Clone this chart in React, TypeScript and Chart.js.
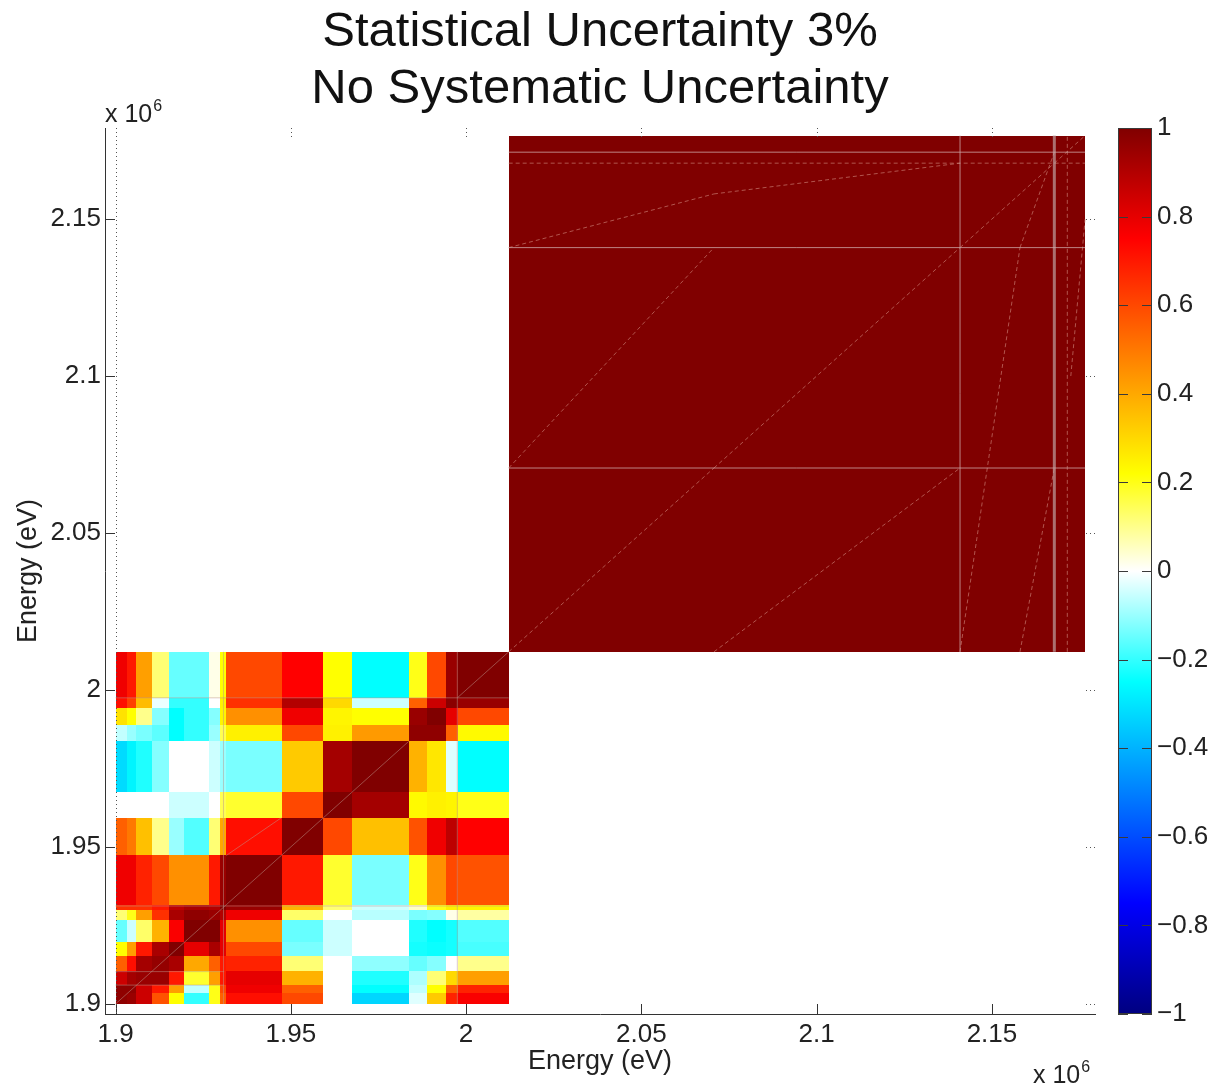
import React, { useEffect, useRef } from "react";
import { Chart, registerables } from "chart.js";

Chart.register(...registerables);

const FONT = "'Liberation Sans', Arial, sans-serif";
const ORIGIN = 1900000;
const X_TICKS = [1900000, 1950000, 2000000, 2050000, 2100000, 2150000];
const Y_TICKS = [1900000, 1950000, 2000000, 2050000, 2100000, 2150000];
const BAR_TICKS = [-1, -0.8, -0.6, -0.4, -0.2, 0, 0.2, 0.4, 0.6, 0.8, 1];

// Energy bin edges of the lower block, eV above 1.9e6
const EDGES = [0, 3400, 5900, 10400, 15200, 19650, 26600, 29800, 31650, 47350, 59300, 67400, 83600, 88900, 94200, 97600, 112150];

// Correlation values, first row is the lowest energy
const MATRIX = [
  [0.97, 0.95, 0.85, 0.58, 0.22, -0.2, 0.2, 0.55, 0.72, 0.6, 0, -0.33, -0.03, 0.33, 0.68, 0.76],
  [0.97, 0.97, 0.85, 0.7, 0.42, -0.06, 0.2, 0.6, 0.78, 0.55, 0, -0.25, -0.06, 0.22, 0.55, 0.68],
  [0.85, 0.93, 0.95, 0.95, 0.7, 0.18, 0.42, 0.7, 0.8, 0.38, 0, -0.22, -0.08, 0.12, 0.3, 0.42],
  [0.55, 0.72, 0.93, 0.96, 0.92, 0.4, 0.55, 0.7, 0.68, 0.12, 0, -0.11, -0.15, -0.12, 0, 0.1],
  [0.22, 0.42, 0.7, 0.92, 1, 0.8, 0.92, 0.8, 0.6, -0.13, -0.05, 0, -0.23, -0.24, -0.23, -0.18],
  [-0.15, -0.05, 0.13, 0.38, 0.76, 1, 1, 0.8, 0.45, -0.15, -0.05, 0, -0.22, -0.25, -0.23, -0.17],
  [0.12, 0.2, 0.42, 0.65, 0.92, 0.97, 0.95, 0.9, 0.78, 0.13, 0, -0.07, -0.13, -0.12, 0.02, 0.08],
  [0.65, 0.65, 0.65, 0.7, 0.88, 0.92, 0.9, 1, 0.95, 0.38, 0.12, -0.05, 0.05, 0.2, 0.25, 0.24],
  [0.78, 0.78, 0.68, 0.6, 0.45, 0.45, 0.7, 0.95, 1, 0.7, 0.18, -0.13, 0.2, 0.45, 0.6, 0.58],
  [0.55, 0.5, 0.35, 0.1, -0.1, -0.17, 0.12, 0.4, 0.72, 1, 0.6, 0.35, 0.58, 0.78, 0.88, 0.75],
  [0, 0, 0, 0, -0.05, -0.05, 0, 0.15, 0.18, 0.6, 1, 0.93, 0.23, 0.25, 0.24, 0.2],
  [-0.32, -0.27, -0.22, -0.12, 0, 0, -0.05, -0.1, -0.13, 0.33, 0.93, 1, 0.38, 0.27, -0.03, -0.25],
  [-0.06, -0.1, -0.13, -0.16, -0.25, -0.2, -0.1, 0.15, 0.25, 0.6, 0.25, 0.43, 0.97, 0.97, 0.55, 0.23],
  [0.28, 0.22, 0.1, -0.12, -0.25, -0.2, -0.12, 0.24, 0.45, 0.78, 0.24, 0.22, 0.95, 1, 0.8, 0.6],
  [0.72, 0.62, 0.36, -0.02, -0.2, -0.2, 0, 0.25, 0.65, 0.9, 0.3, -0.05, 0.55, 0.85, 0.98, 0.95],
  [0.78, 0.7, 0.42, 0.12, -0.15, -0.15, 0.02, 0.22, 0.6, 0.75, 0.22, -0.25, 0.2, 0.6, 0.95, 1],
];

// Upper block: all values fully correlated
const BLOCK_EDGES = [2012150, 2176580];
const BLOCK_VALUE = 1;

// Colormap stops: value, r, g, b
const COLOR_STOPS = [
  [-1, 0, 0, 128],
  [-0.75, 0, 0, 255],
  [-0.25, 0, 255, 255],
  [0, 255, 255, 255],
  [0.22, 255, 255, 0],
  [0.75, 255, 0, 0],
  [1, 128, 0, 0],
];

// Mesh lines in the upper block [x0, y0, x1, y1], eV
const BLOCK_LINES = [
  [2012150, 2070700, 2176580, 2070700],
  [2012150, 2140900, 2176580, 2140900],
  [2012150, 2171300, 2176580, 2171300],
  [2140900, 2012150, 2140900, 2176580],
];
const BLOCK_THICK_LINES = [
  [2167800, 2012150, 2167800, 2176580],
];
const BLOCK_DASHED = [
  [2012150, 2167800, 2176580, 2167800],
  [2171500, 2012150, 2171500, 2176580],
  [2012150, 2012150, 2070700, 2070700],
  [2070700, 2070700, 2140900, 2140900],
  [2140900, 2140900, 2167800, 2167800],
  [2167800, 2167800, 2176580, 2176580],
  [2070700, 2012150, 2140900, 2070700],
  [2012150, 2070700, 2070700, 2140900],
  [2140900, 2012150, 2158000, 2140900],
  [2158000, 2140900, 2167800, 2171300],
  [2012150, 2140900, 2070700, 2158000],
  [2070700, 2158000, 2140900, 2167800],
  [2158000, 2012150, 2167800, 2070700],
  [2172500, 2100000, 2176580, 2150000],
];
// Mesh lines in the lower block
const LOW_LINES = [
  [1900000, 1931200, 2012150, 1931200],
  [1900000, 1997500, 2012150, 1997500],
  [1930800, 1900000, 1930800, 2012150],
  [1997500, 1900000, 1997500, 2012150],
  [1900000, 1906000, 1931000, 1906000],
  [1900000, 1910300, 1931000, 1910300],
  [1931600, 1947300, 1947300, 1959300],
  [1947300, 1947300, 1959300, 1959300],
  [1959300, 1959300, 1967400, 1967400],
  [1967400, 1967400, 1983600, 1983600],
  [1931600, 1931600, 1947300, 1947300],
  [1997600, 1997600, 2012150, 2012150],
  [1900000, 1900000, 1931600, 1931600],
];

const lerpColor = (v: number) => {
  for (let i = 1; i < COLOR_STOPS.length; i++) {
    const a = COLOR_STOPS[i - 1];
    const b = COLOR_STOPS[i];
    if (v <= b[0]) {
      const t = (v - a[0]) / (b[0] - a[0]);
      return `rgb(${Math.round(a[1] + (b[1] - a[1]) * t)},${Math.round(a[2] + (b[2] - a[2]) * t)},${Math.round(a[3] + (b[3] - a[3]) * t)})`;
    }
  }
  return "rgb(128,0,0)";
};

const segs = (list: number[][]) =>
  list.flatMap(([x0, y0, x1, y1]) => [{ x: x0, y: y0 }, { x: x1, y: y1 }, { x: NaN, y: NaN }]);

const cells: any[] = [];
MATRIX.forEach((row, r) =>
  row.forEach((v, c) => {
    const x0 = ORIGIN + EDGES[c];
    const x1 = ORIGIN + EDGES[c + 1];
    const y0 = ORIGIN + EDGES[r];
    const y1 = ORIGIN + EDGES[r + 1];
    cells.push({ x: (x0 + x1) / 2, y: (y0 + y1) / 2, x0, x1, y0, y1, v });
  }),
);
cells.push({
  x: (BLOCK_EDGES[0] + BLOCK_EDGES[1]) / 2,
  y: (BLOCK_EDGES[0] + BLOCK_EDGES[1]) / 2,
  x0: BLOCK_EDGES[0],
  x1: BLOCK_EDGES[1],
  y0: BLOCK_EDGES[0],
  y1: BLOCK_EDGES[1],
  v: BLOCK_VALUE,
});

const heatPlugin = {
  id: "heat",
  beforeDatasetsDraw(chart: any) {
    const { ctx, scales } = chart;
    const { x, y, bar } = scales;
    ctx.save();
    chart.data.datasets[0].data.forEach((c: any) => {
      const l = Math.round(x.getPixelForValue(c.x0));
      const r = Math.round(x.getPixelForValue(c.x1));
      const t = Math.round(y.getPixelForValue(c.y1));
      const b = Math.round(y.getPixelForValue(c.y0));
      ctx.fillStyle = lerpColor(c.v);
      ctx.fillRect(l, t, r - l, b - t);
    });

    // colour bar
    const bl = bar.left + 23;
    const br = bar.left + 57;
    const bt = bar.getPixelForValue(1);
    const bb = bar.getPixelForValue(-1);
    const g = ctx.createLinearGradient(0, bb, 0, bt);
    COLOR_STOPS.forEach((s) => {
      g.addColorStop((s[0] + 1) / 2, `rgb(${s[1]},${s[2]},${s[3]})`);
    });
    ctx.fillStyle = g;
    ctx.fillRect(bl, bt, br - bl, bb - bt);
    ctx.strokeStyle = "#3a3a3a";
    ctx.lineWidth = 1;
    ctx.strokeRect(bl + 0.5, bt + 0.5, br - bl - 1, bb - bt - 1);
    bar.ticks.forEach((tk: any) => {
      const p = Math.round(bar.getPixelForValue(tk.value)) + 0.5;
      ctx.beginPath();
      ctx.moveTo(bl, p);
      ctx.lineTo(bl + 10, p);
      ctx.moveTo(br - 10, p);
      ctx.lineTo(br, p);
      ctx.stroke();
    });
    ctx.restore();
  },
  afterDatasetsDraw(chart: any) {
    const { ctx, scales, chartArea: a } = chart;
    const { x, y } = scales;
    ctx.save();
    ctx.lineWidth = 1;
    x.ticks.forEach((tk: any) => {
      const p = Math.round(x.getPixelForValue(tk.value)) + 0.5;
      ctx.strokeStyle = "#333";
      ctx.setLineDash([]);
      ctx.beginPath();
      ctx.moveTo(p, a.bottom);
      ctx.lineTo(p, a.bottom - 10);
      ctx.stroke();
      ctx.setLineDash([1, 3]);
      ctx.strokeStyle = "#555";
      ctx.beginPath();
      ctx.moveTo(p, a.top);
      ctx.lineTo(p, tk.value === X_TICKS[0] ? a.bottom : a.top + 9);
      ctx.stroke();
    });
    y.ticks.forEach((tk: any) => {
      const p = Math.round(y.getPixelForValue(tk.value)) + 0.5;
      ctx.strokeStyle = "#333";
      ctx.setLineDash([]);
      ctx.beginPath();
      ctx.moveTo(a.left, p);
      ctx.lineTo(a.left + 10, p);
      ctx.stroke();
      ctx.setLineDash([1, 3]);
      ctx.strokeStyle = "#555";
      ctx.beginPath();
      ctx.moveTo(a.right, p);
      ctx.lineTo(a.right - 9, p);
      ctx.stroke();
    });
    ctx.setLineDash([]);

    // exponent labels
    ctx.fillStyle = "#222";
    ctx.textBaseline = "alphabetic";
    ctx.textAlign = "left";
    const exponent = (px: number, py: number) => {
      ctx.font = `25px ${FONT}`;
      ctx.fillText("x 10", px, py);
      const w = ctx.measureText("x 10").width;
      ctx.font = `16px ${FONT}`;
      ctx.fillText("6", px + w + 1, py - 11);
    };
    exponent(105, 122);
    exponent(1033, 1083);
    ctx.restore();
  },
};

const tickFmt = (v: any) => String(Number(v) / 1e6);

export default function App() {
  const ref = useRef<HTMLCanvasElement | null>(null);
  useEffect(() => {
    if (!ref.current) return;
    const chart = new Chart(ref.current, {
      type: "scatter",
      data: {
        datasets: [
          { label: "cells", data: cells, pointRadius: 0, showLine: false },
          {
            label: "mesh",
            data: segs(BLOCK_LINES),
            showLine: true,
            pointRadius: 0,
            borderWidth: 1,
            borderColor: "rgba(205,165,165,0.8)",
            spanGaps: false,
          },
          {
            label: "thick mesh",
            data: segs(BLOCK_THICK_LINES),
            showLine: true,
            pointRadius: 0,
            borderWidth: 3,
            borderColor: "rgba(190,160,160,0.7)",
            spanGaps: false,
          },
          {
            label: "dashed mesh",
            data: segs(BLOCK_DASHED),
            showLine: true,
            pointRadius: 0,
            borderWidth: 1,
            borderDash: [4, 3],
            borderColor: "rgba(205,130,120,0.65)",
            spanGaps: false,
          },
          {
            label: "low mesh",
            data: segs(LOW_LINES),
            showLine: true,
            pointRadius: 0,
            borderWidth: 1,
            borderColor: "rgba(190,150,140,0.5)",
            spanGaps: false,
          },
        ],
      } as any,
      options: {
        animation: false,
        responsive: false,
        layout: { padding: 0, autoPadding: false },
        plugins: {
          legend: { display: false },
          tooltip: { enabled: false },
          title: {
            display: true,
            text: ["Statistical Uncertainty 3%", "No Systematic Uncertainty"],
            color: "#111",
            fullSize: false,
            padding: { top: 4, bottom: 10 },
            font: { family: FONT, size: 49, weight: "normal", lineHeight: 57 / 49 },
          },
        },
        scales: {
          x: {
            type: "linear",
            position: "bottom",
            min: 1897000,
            max: 2179400,
            grid: { display: false, drawTicks: false },
            border: { display: true, color: "#333", width: 1 },
            afterBuildTicks: (s: any) => {
              s.ticks = X_TICKS.map((value) => ({ value }));
            },
            afterFit: (s: any) => {
              s.height = 73;
            },
            ticks: {
              callback: tickFmt,
              autoSkip: false,
              maxRotation: 0,
              padding: 5,
              color: "#222",
              font: { family: FONT, size: 26 },
            },
            title: {
              display: true,
              text: "Energy (eV)",
              color: "#222",
              padding: { top: 0, bottom: 9 },
              font: { family: FONT, size: 27 },
            },
          },
          y: {
            type: "linear",
            position: "left",
            min: 1896800,
            max: 2179000,
            grid: { display: false, drawTicks: false },
            border: { display: true, color: "#333", width: 1 },
            afterBuildTicks: (s: any) => {
              s.ticks = Y_TICKS.map((value) => ({ value }));
            },
            afterFit: (s: any) => {
              s.width = 105;
            },
            ticks: {
              callback: tickFmt,
              autoSkip: false,
              maxRotation: 0,
              padding: 4,
              color: "#222",
              font: { family: FONT, size: 26 },
            },
            title: {
              display: true,
              text: "Energy (eV)",
              color: "#222",
              padding: { top: 12, bottom: 0 },
              font: { family: FONT, size: 27 },
            },
          },
          bar: {
            type: "linear",
            axis: "y",
            position: "right",
            min: -1,
            max: 1,
            grid: { display: false, drawTicks: false },
            border: { display: false },
            afterBuildTicks: (s: any) => {
              s.ticks = BAR_TICKS.map((value) => ({ value }));
            },
            afterFit: (s: any) => {
              s.width = 119;
              s.paddingTop = 0;
              s.paddingBottom = 0;
            },
            ticks: {
              callback: (v: any) => String(Number(v)).replace("-", "\u2212"),
              autoSkip: false,
              maxRotation: 0,
              padding: 62,
              color: "#222",
              font: { family: FONT, size: 26 },
            },
          },
        },
      } as any,
      plugins: [heatPlugin],
    });
    return () => chart.destroy();
  }, []);
  return (
    <div style={{ position: "absolute", left: 0, top: 0, width: 1214, height: 1087, background: "#fff" }}>
      <canvas ref={ref} width={1214} height={1087} style={{ display: "block" }} />
    </div>
  );
}
